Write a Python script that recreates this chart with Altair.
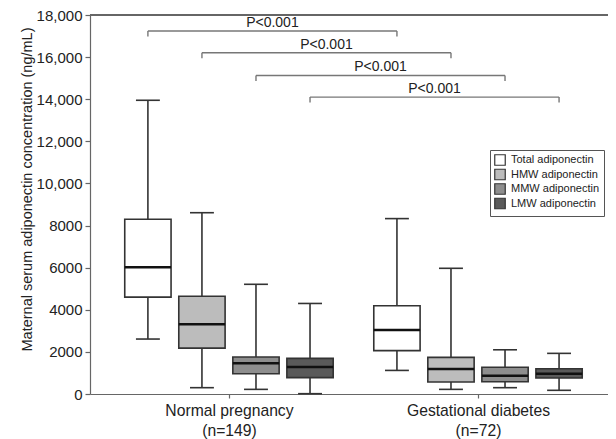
import altair as alt
import pandas as pd

# ---- data ----
groups = ["Normal pregnancy", "Gestational diabetes"]
group_n = ["(n=149)", "(n=72)"]
series = ["Total adiponectin", "HMW adiponectin", "MMW adiponectin", "LMW adiponectin"]
colors = ["#ffffff", "#bcbcbc", "#8e8e8e", "#5a5a5a"]

lower_w = [[2610, 300, 220, 15], [1120, 220, 300, 175]]
q1_vals = [[4600, 2180, 960, 780], [2060, 570, 580, 760]]
median_vals = [[6020, 3310, 1460, 1280], [3040, 1190, 870, 960]]
q3_vals = [[8300, 4640, 1760, 1690], [4190, 1740, 1270, 1200]]
upper_w = [[13950, 8610, 5210, 4300], [8330, 5970, 2100, 1930]]

bracket_levels = [17240, 16210, 15130, 14100]
bracket_label = "P<0.001"

# layout constants (data units along x: group spacing = 1)
SPACING = 0.217
HALF_BOX = 0.093
HALF_CAP = 0.048
DROP = 260

rows = []
for g in range(len(groups)):
    for s in range(len(series)):
        rows.append({
            "group": groups[g], "series": series[s],
            "pos": g + (s - 1.5) * SPACING,
            "lower": lower_w[g][s], "q1": q1_vals[g][s], "median": median_vals[g][s],
            "q3": q3_vals[g][s], "upper": upper_w[g][s],
        })
df = pd.DataFrame(rows)

brows = []
for s, lvl in enumerate(bracket_levels):
    brows.append({"x1": 0 + (s - 1.5) * SPACING, "x2": 1 + (s - 1.5) * SPACING,
                  "level": lvl, "label": bracket_label})
bdf = pd.DataFrame(brows)

FONT = "Liberation Sans"
xs = alt.Scale(domain=[-0.558, 1.522], nice=False, zero=False)
ys = alt.Scale(domain=[0, 18000], nice=False, zero=True)

label_expr = "datum.value == 0 ? ['{0}', '{1}'] : ['{2}', '{3}']".format(
    groups[0], group_n[0], groups[1], group_n[1])
xaxis = alt.Axis(values=[0, 1], labelExpr=label_expr, title=None, grid=False,
                 tickSize=4, labelPadding=5, labelFontSize=15.7, labelLineHeight=20,
                 labelBaseline="top")
YT = "Maternal serum adiponectin concentration (ng/mL)"
yaxis = alt.Axis(values=list(range(0, 18001, 2000)),
                 labelExpr="datum.value >= 10000 ? format(datum.value, ',') : format(datum.value, 'd')",
                 grid=False, tickSize=5, labelPadding=3, labelFontSize=15,
                 title=YT, titleFontSize=14.5, titleFontWeight="normal", titleAngle=-90,
                 titleX=-63, titleY=174, titleAlign="center", titleBaseline="middle")


def X(field):
    return alt.X(field, type="quantitative", scale=xs, axis=xaxis, title=None)


def Y(field):
    return alt.Y(field, type="quantitative", scale=ys, axis=yaxis, title=YT)


base = alt.Chart(df)

whisker = base.mark_rule(color="#333333", strokeWidth=1.6).encode(
    x=X("pos"), y=Y("lower"), y2="upper")

caps = base.transform_fold(["lower", "upper"], as_=["k", "v"]).transform_calculate(
    cl=f"datum.pos - {HALF_CAP}", cr=f"datum.pos + {HALF_CAP}"
).mark_rule(color="#333333", strokeWidth=1.6).encode(x=X("cl"), x2="cr", y=Y("v"))

boxes = base.transform_calculate(
    bl=f"datum.pos - {HALF_BOX}", br=f"datum.pos + {HALF_BOX}"
).mark_bar(stroke="#333333", strokeWidth=1.6).encode(
    x=X("bl"), x2="br", y=Y("q1"), y2="q3",
    fill=alt.Fill("series:N", scale=alt.Scale(domain=series, range=colors),
                  legend=alt.Legend(title=None, orient="none", legendX=400, legendY=135,
                                    symbolType="square", symbolSize=110,
                                    symbolStrokeColor="#333333", symbolStrokeWidth=1.2,
                                    labelFontSize=11, labelFont=FONT, labelColor="#222222",
                                    labelOffset=5, rowPadding=-1.5, padding=4,
                                    strokeColor="#555555", fillColor="#ffffff")))

medians = base.transform_calculate(
    bl=f"datum.pos - {HALF_BOX}", br=f"datum.pos + {HALF_BOX}"
).mark_rule(color="#111111", strokeWidth=2.6).encode(x=X("bl"), x2="br", y=Y("median"))

top_line = alt.Chart(df).mark_rule(color="#666666", strokeWidth=1.2).encode(
    y=alt.datum(18000, type="quantitative", scale=ys, axis=yaxis, title=YT))

bbase = alt.Chart(bdf)
bh = bbase.mark_rule(color="#777777", strokeWidth=1.4).encode(
    x=X("x1"), x2="x2", y=Y("level"))
bv = bbase.transform_fold(["x1", "x2"], as_=["k", "xv"]).transform_calculate(
    low=f"datum.level - {DROP}"
).mark_rule(color="#777777", strokeWidth=1.4).encode(x=X("xv"), y=Y("low"), y2="level")
bt = bbase.transform_calculate(mid="(datum.x1 + datum.x2) / 2").mark_text(
    fontSize=14, font=FONT, color="#222222", baseline="middle", dy=-8
).encode(x=X("mid"), y=Y("level"), text="label:N")

chart = alt.layer(top_line, whisker, caps, boxes, medians, bh, bv, bt).properties(
    width=518, height=379,
    autosize=alt.AutoSizeParams(type="none"),
    padding={"left": 82, "top": 7, "right": 0, "bottom": 45},
).configure_view(stroke=None).configure_axis(
    labelFont=FONT, titleFont=FONT, labelColor="#222222", titleColor="#222222",
    domainColor="#666666", tickColor="#666666", domainWidth=1.2, tickWidth=1.2
)

chart.save("out.html", embed_options={"renderer": "svg", "actions": False})
